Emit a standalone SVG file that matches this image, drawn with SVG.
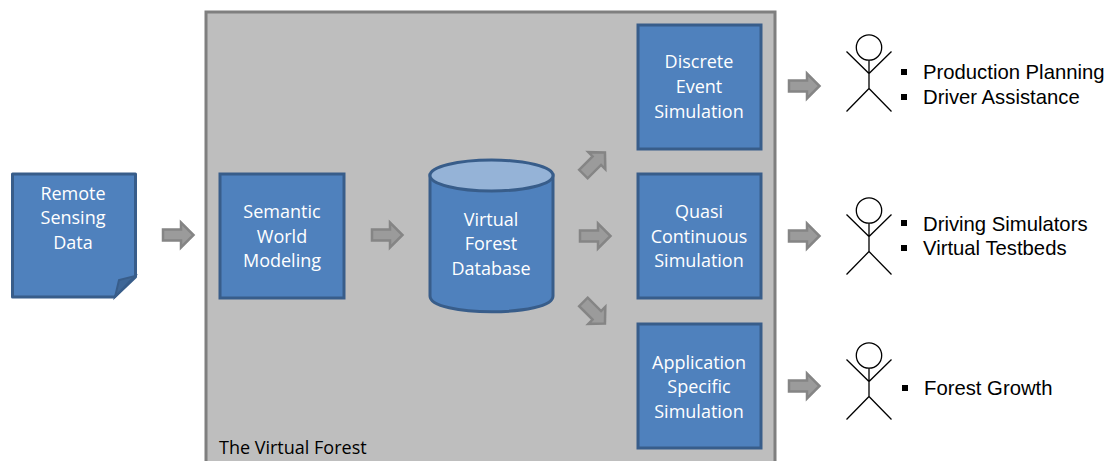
<svg xmlns="http://www.w3.org/2000/svg" width="1109" height="461" viewBox="0 0 1109 461">
<style>
text{font-family:"Open Sans","Noto Sans",sans-serif;font-size:18px;fill:#fff;text-anchor:middle}
.b{fill:#4f81bd;stroke:#385d8a;stroke-width:3}
.k{font-family:"Liberation Sans",Arial,sans-serif;font-size:20.3px;fill:#000;text-anchor:start}
.a{fill:#9b9b9b;stroke:#858585;stroke-width:2.5}
.s{fill:none;stroke:#000;stroke-width:1.3}
</style>
<defs>
<path id="arr" class="a" d="M-15,-5.500H3V-12.500L15.500,0L3,12.500V5.500H-15Z"/>
<path id="arrd" class="a" d="M-15,-6H4V-12L15.500,0L4,12V6H-15Z"/>
<g id="actor"><circle class="s" cx="0" cy="0" r="12.700"/><path class="s" d="M0,12.700V41M-22.500,4L0,26L22.500,4M-22.500,64L0,41L22.500,64"/></g>
</defs>
<g id="virtual-forest"><rect x="206" y="12" width="569" height="455" fill="#bebebe" stroke="#7f7f7f" stroke-width="3"/><text x="219" y="454" style="text-anchor:start;fill:#000">The Virtual Forest</text></g>
<g id="remote-sensing"><path class="b" d="M12.500,174H135.500V277L114.500,297H12.500Z" stroke-linejoin="round"/><path d="M115,297L119,280L135,276Z" fill="#3f6797" stroke="#385d8a" stroke-width="2"/><text x="73" y="200">Remote</text><text x="73" y="224">Sensing</text><text x="73" y="249">Data</text></g>
<g id="semantic"><rect class="b" x="220" y="174" width="124" height="124"/><text x="282" y="218">Semantic</text><text x="282" y="243">World</text><text x="282" y="267">Modeling</text></g>
<g id="database"><path class="b" d="M430,175V296C430,317 553,317 553,296V175Z"/><ellipse cx="491.500" cy="175.500" rx="61.500" ry="15.500" fill="#95b3d7" stroke="#385d8a" stroke-width="3"/><text x="491" y="226">Virtual</text><text x="491" y="250">Forest</text><text x="491" y="275">Database</text></g>
<g id="discrete"><rect class="b" x="638" y="25" width="123" height="124"/><text x="699" y="68">Discrete</text><text x="699" y="93">Event</text><text x="699" y="118">Simulation</text></g>
<g id="quasi"><rect class="b" x="638" y="174" width="123" height="124"/><text x="699" y="218">Quasi</text><text x="699" y="243">Continuous</text><text x="699" y="267">Simulation</text></g>
<g id="application"><rect class="b" x="638" y="324" width="123" height="124"/><text x="699" y="369">Application</text><text x="699" y="393">Specific</text><text x="699" y="418">Simulation</text></g>
<g id="connectors">
<use href="#arr" x="178" y="235"/><use href="#arr" x="387" y="235"/><use href="#arr" x="595" y="236"/>
<use href="#arrd" transform="translate(594,163.500) rotate(-45)"/><use href="#arrd" transform="translate(594,312.500) rotate(45)"/>
<use href="#arr" x="804" y="86"/><use href="#arr" x="804" y="236"/><use href="#arr" x="804" y="386"/>
</g>
<g id="actor1"><use href="#actor" x="869" y="47.500"/></g>
<g id="actor2"><use href="#actor" x="869" y="210.500"/></g>
<g id="actor3"><use href="#actor" x="869" y="355.500"/></g>
<g id="list1"><rect x="901" y="69" width="6" height="6"/><rect x="901" y="94" width="6" height="6"/><text class="k" x="923" y="79">Production Planning</text><text class="k" x="923" y="104">Driver Assistance</text></g>
<g id="list2"><rect x="901" y="220" width="6" height="6"/><rect x="901" y="245" width="6" height="6"/><text class="k" x="923" y="231">Driving Simulators</text><text class="k" x="923" y="255">Virtual Testbeds</text></g>
<g id="list3"><rect x="902" y="385" width="6" height="6"/><text class="k" x="924" y="395">Forest Growth</text></g>
</svg>
